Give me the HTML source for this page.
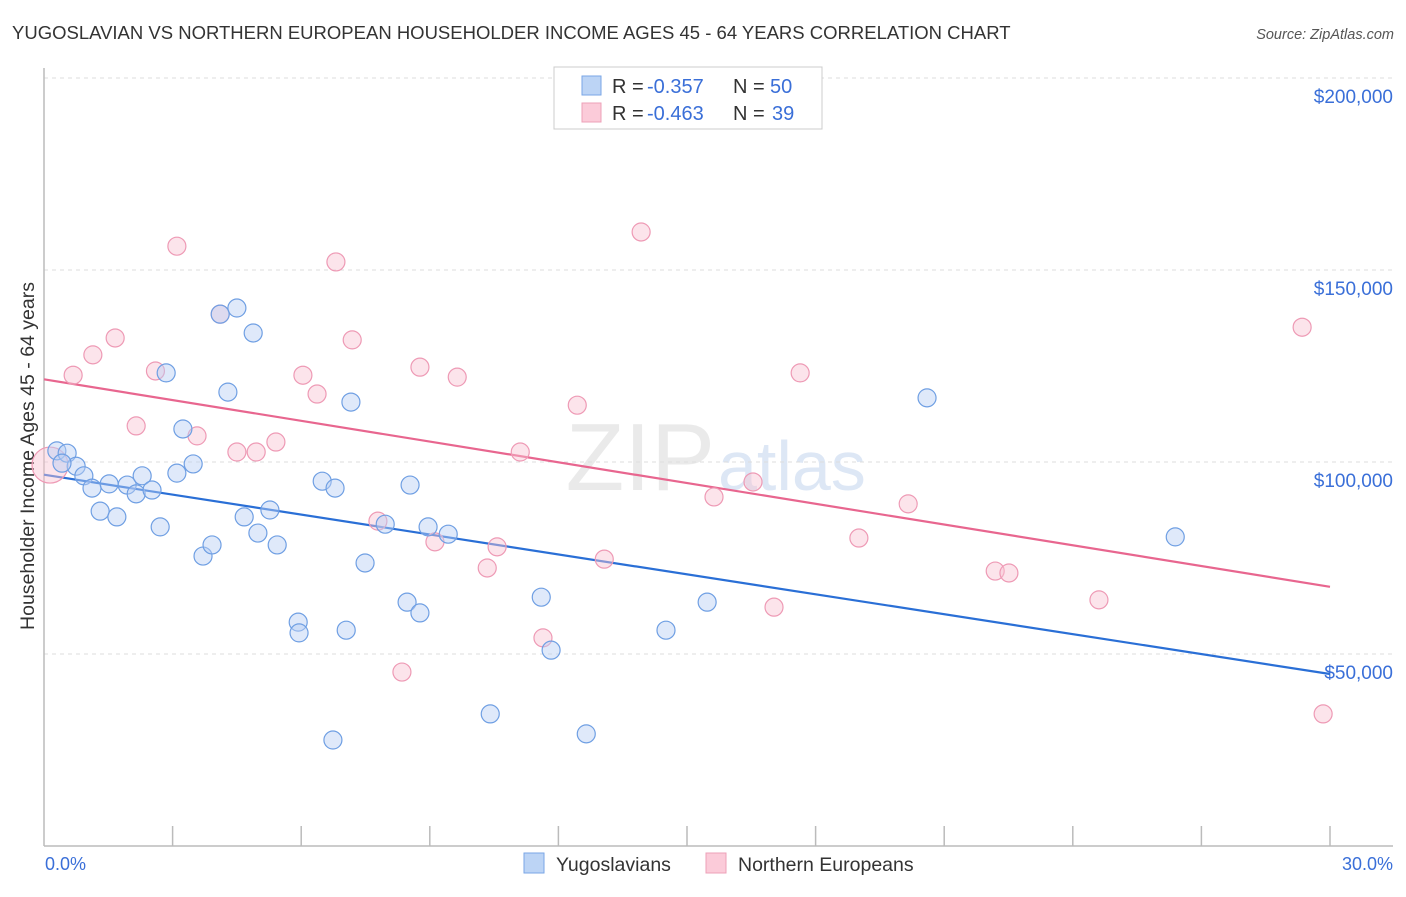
<!DOCTYPE html>
<html><head><meta charset="utf-8"><style>
body{margin:0;background:#fff;font-family:"Liberation Sans",sans-serif}
svg text{font-family:"Liberation Sans",sans-serif}
</style></head><body>
<svg id="c" width="1406" height="892" xmlns="http://www.w3.org/2000/svg">
<text x="12" y="39" font-size="18.5" fill="#333">YUGOSLAVIAN VS NORTHERN EUROPEAN HOUSEHOLDER INCOME AGES 45 - 64 YEARS CORRELATION CHART</text>
<text x="1394" y="39" font-size="14.5" fill="#555" font-style="italic" text-anchor="end">Source: ZipAtlas.com</text>
<text transform="translate(34,456) rotate(-90)" font-size="19.5" fill="#333" text-anchor="middle">Householder Income Ages 45 - 64 years</text>
<text x="715" y="490" font-size="96" fill="#ddd" font-family="Liberation Serif" text-anchor="end" opacity="0.6">ZIP</text>
<text x="718" y="490" font-size="70" fill="#c8d8f0" opacity="0.6">atlas</text>
<g id="grid"></g><g id="axes"></g><g id="lines"></g><g id="pts"></g>
<g>
<rect x="554" y="67" width="268" height="62" fill="#fff" stroke="#ccc"/>
<rect x="582" y="76" width="19" height="19" fill="#bcd4f5" stroke="#7aa6e6"/>
<rect x="582" y="103" width="19" height="19" fill="#fbcbd9" stroke="#eea0b8"/>
<text y="93" font-size="20" fill="#333"><tspan x="612">R =</tspan><tspan x="647" fill="#3a6fd8">-0.357</tspan><tspan x="733">N =</tspan><tspan x="770" fill="#3a6fd8">50</tspan></text>
<text y="120" font-size="20" fill="#333"><tspan x="612">R =</tspan><tspan x="647" fill="#3a6fd8">-0.463</tspan><tspan x="733">N =</tspan><tspan x="772" fill="#3a6fd8">39</tspan></text>
</g>
<g>
<rect x="524" y="853" width="20" height="20" fill="#bcd4f5" stroke="#7aa6e6"/>
<text x="556" y="871" font-size="19.5" fill="#333">Yugoslavians</text>
<rect x="706" y="853" width="20" height="20" fill="#fbcbd9" stroke="#eea0b8"/>
<text x="738" y="871" font-size="19.5" fill="#333">Northern Europeans</text>
</g>
</svg>
<script>
const yTicks=[50000,100000,150000,200000];
const yTickLabels=["$50,000","$100,000","$150,000","$200,000"];
const xTickLabels=["0.0%","30.0%"];
const blueX=[0.30,0.54,0.75,0.93,1.12,1.31,1.52,1.70,1.94,2.15,2.29,2.52,2.71,2.85,3.10,3.24,3.48,3.71,3.92,4.11,4.29,4.50,4.67,4.88,4.99,5.27,5.44,5.93,5.95,6.49,6.79,6.74,7.05,7.16,7.49,7.96,8.47,8.54,8.77,8.96,9.43,10.41,11.60,11.83,12.65,14.51,15.47,20.60,26.39,0.42];
const blueY=[102900,102300,98900,96400,93200,87200,94300,85700,94000,91700,96400,92700,83100,123200,97100,108600,99500,75500,78400,138500,118200,140100,85700,133600,81500,87500,78400,58300,55500,95000,93200,27600,56200,115600,73700,83800,63500,94000,60700,83100,81200,34400,64800,51000,29200,56200,63500,116700,80500,99700];
const pinkX=[0.14,0.68,1.14,1.66,2.15,2.60,3.10,3.57,4.11,4.50,4.95,5.41,6.04,6.37,6.81,7.19,7.79,8.35,8.77,9.12,9.64,10.34,10.57,11.11,11.64,12.44,13.07,13.93,15.63,16.54,17.03,17.64,19.01,20.16,22.19,22.51,24.61,29.35,29.84];
const pinkY=[99200,122600,127900,132300,109400,123700,156200,106800,138500,102600,102600,105200,122600,117700,152100,131800,84600,45300,124700,79200,122100,72400,77900,102600,54200,114800,74700,159900,90900,94800,62200,123200,80200,89100,71600,71100,64100,135100,34400];
const NS="http://www.w3.org/2000/svg";
const X0=44,X1=1330,Ybase=846;
const sx=v=>X0+(v/30)*(X1-X0);
const sy=v=>Ybase-(v/50000)*192;
function mk(t,a,p){const e=document.createElementNS(NS,t);for(const k in a)e.setAttribute(k,a[k]);p.appendChild(e);return e;}
const grid=document.getElementById('grid'),axes=document.getElementById('axes'),lines=document.getElementById('lines'),pts=document.getElementById('pts');
yTicks.forEach((v,i)=>{
 const l=mk('line',{x1:44,x2:1393,y1:sy(v),y2:sy(v),stroke:'#ddd','stroke-dasharray':'4,4'},grid);
 
 
 const t=mk('text',{x:1393,y:sy(v)+25,'font-size':19,fill:'#3a6fd8','text-anchor':'end'},grid);
 t.textContent=yTickLabels[i];
 
 
});
mk('line',{x1:44,x2:44,y1:68,y2:846,stroke:'#bbb','stroke-width':1.5},axes);
mk('line',{x1:44,x2:1393,y1:846,y2:846,stroke:'#bbb','stroke-width':1.5},axes);
for(let i=1;i<=10;i++){const t=mk('line',{x1:sx(i*3),x2:sx(i*3),y1:826,y2:846,stroke:'#bbb','stroke-width':1.5},axes);
 
 }
const xl0=mk('text',{x:45,y:870,'font-size':18,fill:'#3a6fd8'},axes);xl0.textContent=xTickLabels[0];


const xl1=mk('text',{x:1393,y:870,'font-size':18,fill:'#3a6fd8','text-anchor':'end'},axes);xl1.textContent=xTickLabels[1];


function reg(xs,ys){const n=xs.length;let mx=0,my=0;xs.forEach((x,i)=>{mx+=x;my+=ys[i]});mx/=n;my/=n;let a=0,b=0;xs.forEach((x,i)=>{a+=(x-mx)*(ys[i]-my);b+=(x-mx)*(x-mx)});const s=a/b;return [my-s*mx,s];}
function drawLine(xs,ys,col,name){const [c,s]=reg(xs,ys);const l=mk('line',{x1:sx(0),y1:sy(c),x2:sx(30),y2:sy(c+s*30),stroke:col,'stroke-width':2.2},lines);
 
 }
drawLine(blueX,blueY,'#2a6fd6','trend-line-yugoslavians');
drawLine(pinkX,pinkY,'#e8668f','trend-line-northern-europeans');
function drawPts(xs,ys,fill,stroke,name){xs.forEach((x,i)=>{const r=(name==='point-northern-european'&&i===0)?18:9;
 const c=mk('circle',{cx:sx(x),cy:sy(ys[i]),r:r,fill:fill,'fill-opacity':0.45,stroke:stroke,'stroke-width':1.2},pts);
 
 });}
drawPts(pinkX,pinkY,'#f9c3d3','#ee9ab5','point-northern-european');
drawPts(blueX,blueY,'#b7cff3','#6f9fe3','point-yugoslavian');
</script>
</body></html>
